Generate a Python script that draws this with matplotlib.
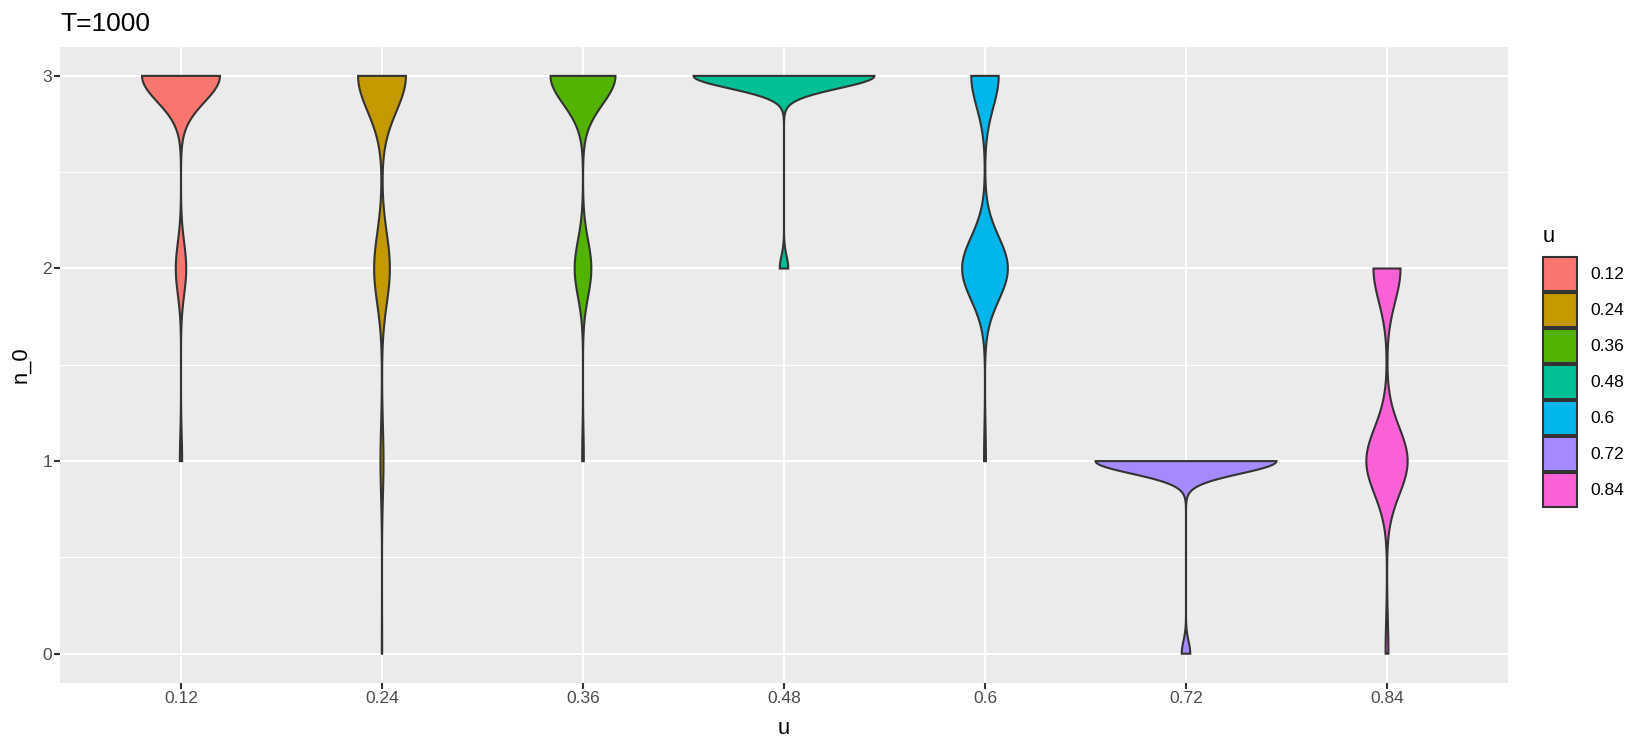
import numpy as np
import matplotlib.pyplot as plt
from matplotlib.patches import Rectangle

plt.rcParams['font.family'] = ['Liberation Sans', 'DejaVu Sans']

# groups on the x axis and their fill colours (ggplot hue palette)
u_levels = ['0.12', '0.24', '0.36', '0.48', '0.6', '0.72', '0.84']
fills = ['#F8766D', '#C49A00', '#53B400', '#00C094', '#00B6EB', '#A58AFF', '#FB61D7']

# number of runs ending with n_0 = 0, 1, 2, 3
n0_values = [0, 1, 2, 3]
cnt_012 = [0, 5, 23, 172]
cnt_024 = [1, 9, 47, 143]
cnt_036 = [0, 4, 40, 156]
cnt_048 = [0, 0, 9, 191]
cnt_060 = [0, 5, 122, 73]
cnt_072 = [9, 191, 0, 0]
cnt_084 = [8, 116, 76, 0]
counts = [cnt_012, cnt_024, cnt_036, cnt_048, cnt_060, cnt_072, cnt_084]


def bw_nrd0(x):
    hi = np.std(x, ddof=1)
    q75, q25 = np.percentile(x, [75, 25])
    lo = min(hi, (q75 - q25) / 1.34)
    if lo == 0:
        lo = hi
    return 0.9 * lo * len(x) ** (-0.2)


def ydensity(x, n=512):
    # gaussian kde, trimmed to the data range (like stat_ydensity)
    bw = bw_nrd0(x)
    y = np.linspace(x.min(), x.max(), n)
    z = (y[:, None] - x[None, :]) / bw
    dens = np.exp(-0.5 * z ** 2).sum(axis=1) / (len(x) * bw * np.sqrt(2 * np.pi))
    return y, dens


dens_list = []
for cnt in counts:
    x = np.repeat(np.array(n0_values, dtype=float), cnt)
    dens_list.append(ydensity(x))
dmax = max(d.max() for _, d in dens_list)

W, H = 1650, 750
fig = plt.figure(figsize=(W / 100, H / 100), dpi=100)
ax = fig.add_axes([60.4 / W, 1 - 682.6 / H, 1447.2 / W, 635.6 / H])
ax.set_facecolor('#EBEBEB')

for i, ((y, d), col) in enumerate(zip(dens_list, fills)):
    pos = i + 1
    hw = 0.45 * d / dmax
    xs = np.concatenate([pos - hw, (pos + hw)[::-1]])
    ys = np.concatenate([y, y[::-1]])
    ax.fill(xs, ys, facecolor=col, edgecolor='#333333', linewidth=1.5, zorder=3)

ax.set_xlim(0.4, len(u_levels) + 0.6)
ax.set_ylim(-0.15, 3.15)
ax.set_xticks(range(1, len(u_levels) + 1))
ax.set_xticklabels(u_levels)
ax.set_yticks([0, 1, 2, 3])
ax.set_yticks([0.5, 1.5, 2.5], minor=True)
ax.grid(which='major', color='white', linewidth=1.5)
ax.grid(which='minor', axis='y', color='white', linewidth=0.75)
ax.set_axisbelow(True)
for s in ax.spines.values():
    s.set_visible(False)
ax.tick_params(which='major', length=4, width=1.5, color='#333333',
               labelcolor='#4D4D4D', labelsize=12.5, pad=2)
ax.tick_params(which='minor', length=0)

ax.set_xlabel('u', fontsize=15.8, labelpad=9)
ax.set_ylabel('n_0', fontsize=15.8, labelpad=8)
ax.set_title('T=1000', loc='left', fontsize=19, pad=11.5)

# legend drawn by hand, ggplot style
fig.text(1542.7 / W, 1 - 242 / H, 'u', fontsize=15.8, va='baseline', ha='left')
key_w, key_h, pitch = 34.6, 34, 36
for i, (lab, col) in enumerate(zip(u_levels, fills)):
    top = 257.3 + pitch * i
    fig.add_artist(Rectangle((1542.7 / W, 1 - (top + key_h) / H), key_w / W, key_h / H,
                             transform=fig.transFigure, facecolor=col,
                             edgecolor='#333333', linewidth=1.5))
    fig.text(1590 / W, 1 - (top + key_h / 2) / H, lab, fontsize=12.5,
             va='center', ha='left')

fig.savefig('out.png', dpi=100)
